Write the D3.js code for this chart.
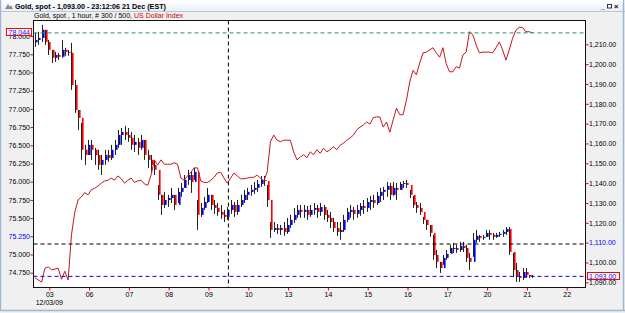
<!DOCTYPE html>
<html>
<head>
<meta charset="utf-8">
<script src="https://cdn.jsdelivr.net/npm/d3@7"></script>
<style>
body { margin: 0; background: #f0f0f0; }
svg { display: block; font-family: "Liberation Sans", Arial, sans-serif; }
</style>
</head>
<body>
<svg id="chart" width="625" height="313"></svg>
<script>
// x axis: trading days shown (weekends collapsed)
const dayLabels = ["03", "06", "07", "08", "09", "10", "13", "14", "15", "16", "17", "20", "21", "22"];
const firstDate = "12/03/09";
const barsPerDay = 12;      // one point every 2 hours
const dayStart = -0.36;     // first bar, in day units

// gold spot candles (right axis)
const goldOpen0 = 1211;
const goldHigh = [1215.8,1216.3,1219.8,1217.3,1212.2,1207.2,1206.2,1205.7,1212.2,1208.2,1207.2,1210.7,1192.1,1176.9,1170.4,1159.3,1161.8,1161.8,1157.8,1156.8,
  1154.2,1156.8,1156.8,1159.3,1161.8,1166.8,1167.8,1168.9,1167.8,1165.8,1164.3,1162.8,1164.3,1161.8,1156.8,1154.2,1151.7,1139.1,1134.1,1135.6,
  1134.1,1137.6,1134.1,1137.6,1140.1,1144.1,1146.7,1145.7,1147.7,1131.5,1130.0,1133.1,1137.6,1134.1,1131.5,1130.0,1129.0,1126.5,1128.0,1131.5,
  1130.5,1131.5,1134.1,1136.6,1137.6,1139.1,1140.6,1141.6,1143.6,1143.6,1139.1,1120.4,1120.4,1119.4,1118.9,1120.4,1122.5,1124.0,1127.5,1129.0,
  1129.0,1129.0,1128.5,1129.0,1130.0,1129.0,1130.0,1129.0,1126.5,1125.5,1122.5,1120.4,1120.4,1124.0,1127.5,1129.0,1128.0,1129.0,1130.0,1131.5,
  1132.5,1133.6,1134.1,1135.6,1137.6,1138.1,1140.6,1140.1,1140.6,1140.1,1140.6,1141.1,1141.6,1136.6,1133.6,1130.5,1130.0,1123.0,1121.5,1118.9,
  1113.9,1106.3,1100.3,1103.8,1106.3,1108.9,1109.9,1108.9,1110.4,1110.4,1108.9,1104.8,1114.9,1116.4,1113.9,1113.9,1116.4,1116.4,1114.9,1114.9,
  1115.4,1116.4,1117.9,1117.9,1104.8,1099.8,1095.2,1097.2,1097.2,1093.7,1093.7];
const goldLow = [1208.7,1209.7,1211.2,1209.7,1204.6,1200.6,1201.1,1202.1,1203.2,1204.2,1204.2,1187.0,1175.4,1166.8,1151.7,1149.2,1154.2,1151.7,1149.2,1146.7,
  1144.1,1149.2,1150.7,1151.7,1154.2,1157.8,1159.3,1161.8,1160.8,1156.8,1155.7,1154.2,1156.8,1151.7,1147.7,1145.7,1144.1,1131.5,1124.0,1127.5,
  1128.0,1130.0,1126.5,1130.0,1133.1,1137.6,1139.1,1135.1,1141.6,1116.4,1123.0,1126.5,1130.0,1126.5,1124.5,1123.5,1122.0,1120.4,1121.5,1124.5,
  1123.0,1124.0,1128.0,1130.0,1131.5,1133.6,1134.6,1135.6,1138.1,1138.6,1128.0,1112.4,1115.4,1114.4,1113.9,1113.4,1114.4,1117.4,1119.9,1122.5,
  1122.5,1122.5,1121.5,1123.0,1124.0,1122.5,1123.5,1121.5,1120.4,1117.4,1115.4,1113.4,1111.4,1115.4,1120.4,1122.5,1121.5,1122.5,1123.5,1124.5,
  1125.5,1126.5,1127.5,1129.0,1130.5,1131.5,1133.1,1131.5,1133.6,1131.5,1136.6,1137.6,1137.6,1132.5,1127.5,1125.0,1124.0,1119.4,1116.4,1112.9,
  1101.3,1097.2,1094.7,1098.8,1101.3,1104.8,1104.8,1104.8,1105.3,1105.3,1100.3,1096.2,1102.8,1109.9,1110.4,1111.4,1112.9,1111.4,1111.4,1112.4,
  1112.9,1112.9,1113.9,1103.8,1092.7,1090.2,1090.2,1091.2,1092.2,1092.2,1092.2];
const goldClose = [1212.2,1213.2,1217.3,1211.2,1207.2,1203.2,1204.6,1203.7,1207.2,1206.2,1205.7,1189.5,1176.9,1172.9,1156.8,1154.2,1159.3,1156.8,1154.2,1149.2,
  1151.7,1154.2,1152.7,1156.8,1159.3,1164.3,1165.8,1164.3,1162.8,1159.3,1160.8,1157.8,1161.8,1154.2,1151.7,1149.2,1146.7,1134.1,1129.0,1131.5,
  1132.5,1134.1,1129.0,1135.6,1137.6,1141.6,1144.1,1140.6,1145.7,1124.0,1127.5,1130.5,1134.1,1129.0,1127.5,1125.5,1124.0,1123.0,1126.5,1129.0,
  1125.5,1129.0,1131.5,1134.1,1135.6,1136.6,1137.6,1139.6,1141.6,1141.1,1131.5,1116.4,1117.4,1116.4,1117.4,1115.4,1118.9,1121.5,1124.0,1126.5,
  1125.5,1126.5,1124.0,1126.5,1127.5,1125.5,1128.0,1124.0,1122.5,1120.4,1117.4,1115.4,1116.4,1121.5,1125.5,1126.5,1124.5,1126.5,1128.5,1127.5,
  1130.5,1131.5,1130.0,1133.6,1135.6,1136.6,1138.6,1134.1,1137.6,1136.6,1139.6,1140.1,1139.1,1134.1,1129.0,1127.5,1125.5,1121.5,1118.9,1114.9,
  1103.8,1100.3,1097.2,1102.3,1104.3,1107.3,1107.3,1106.3,1108.4,1107.3,1102.3,1100.3,1111.4,1113.4,1112.4,1112.9,1114.9,1113.9,1112.9,1113.9,
  1114.4,1115.4,1116.9,1105.3,1096.2,1093.2,1092.2,1095.2,1093.7,1093.2,1093.0];
const goldLast = 1093.00;

// US Dollar Index line (left axis)
const usdIndex = [74.68,74.65,74.62,74.81,74.83,74.79,74.80,74.81,74.66,74.77,74.65,75.27,75.58,75.75,75.79,75.85,75.82,75.89,75.91,75.94,
  75.98,76.01,76.02,76.05,76.02,76.08,76.04,75.98,76.02,76.05,75.99,76.01,76.02,75.97,75.95,76.09,76.30,76.23,76.30,76.24,
  76.24,76.24,76.26,76.24,76.05,76.02,76.08,76.13,76.19,76.19,76.01,75.99,75.99,76.02,76.06,76.12,76.13,76.05,75.98,76.05,
  76.12,76.08,76.04,76.04,76.05,76.06,76.06,76.09,76.05,76.01,76.13,76.55,76.64,76.57,76.55,76.57,76.57,76.57,76.41,76.30,
  76.34,76.37,76.33,76.41,76.37,76.44,76.39,76.46,76.41,76.44,76.48,76.44,76.50,76.53,76.57,76.60,76.64,76.71,76.75,76.78,
  76.82,76.79,76.88,76.89,76.89,76.75,76.82,76.68,76.85,77.01,76.92,76.92,77.12,77.37,77.53,77.47,77.63,77.77,77.78,77.81,
  77.84,77.77,77.71,77.84,77.62,77.51,77.51,77.58,77.56,77.74,77.78,78.06,78.02,77.88,77.77,77.78,77.78,77.78,77.77,77.84,
  77.92,77.81,77.67,77.81,77.97,78.08,78.12,78.12,78.06,78.06,78.044];
const usdLast = 78.044;

// axis ticks and crosshair
const usdTicks = [74.75, 75.0, 75.25, 75.5, 75.75, 76.0, 76.25, 76.5, 76.75, 77.0, 77.25, 77.5, 77.75, 78.0];
const goldTicks = [1090, 1100, 1110, 1120, 1130, 1140, 1150, 1160, 1170, 1180, 1190, 1200, 1210];
const crossDay = 4.5;
const crossGold = 1109.3;

const svg = d3.select("#chart");
const W = +svg.attr("width"), H = +svg.attr("height");
const plot = {left: 33.5, right: 585.5, top: 20.5, bottom: 287.5};

// window frame
const grad = svg.append("defs").append("linearGradient").attr("id", "tb").attr("x1", 0).attr("x2", 0).attr("y1", 0).attr("y2", 1);
grad.append("stop").attr("offset", 0).attr("stop-color", "#ffffff");
grad.append("stop").attr("offset", 1).attr("stop-color", "#e9eef6");
svg.append("rect").attr("width", W).attr("height", H).attr("fill", "#f0f0f0");
svg.append("rect").attr("x", 0).attr("y", 0).attr("width", W).attr("height", 11.5).attr("fill", "url(#tb)");
svg.append("line").attr("x1", 0).attr("x2", W).attr("y1", 11.5).attr("y2", 11.5).attr("stroke", "#b8c6da");
svg.append("line").attr("x1", 0.5).attr("x2", 0.5).attr("y1", 0).attr("y2", 311).attr("stroke", "#9fb6d6").attr("stroke-width", 1.5);
svg.append("line").attr("x1", 623.5).attr("x2", 623.5).attr("y1", 0).attr("y2", 311).attr("stroke", "#9fb6d6").attr("stroke-width", 1.5);
svg.append("line").attr("x1", 0).attr("x2", W).attr("y1", 310.5).attr("y2", 310.5).attr("stroke", "#9fb6d6").attr("stroke-width", 1.5);

// title bar
svg.append("path").attr("d", "M5,9 L8,4 L10,7 L11,5 L13,9 Z").attr("fill", "#8a8a8a");
svg.append("text").attr("x", 15).attr("y", 8.8).attr("font-size", 7.2).attr("font-weight", "bold")
  .text("Gold, spot - 1,093.00 - 23:12:06  21 Dec (EST)");
svg.append("text").attr("x", 601).attr("y", 8.5).attr("font-size", 7).attr("font-weight", "bold").text("_");
svg.append("rect").attr("x", 607.5).attr("y", 4.5).attr("width", 4).attr("height", 3.5).attr("fill", "none").attr("stroke", "#333");
svg.append("text").attr("x", 614).attr("y", 8.8).attr("font-size", 7.5).attr("font-weight", "bold").text("×");

// subtitle
const sub = svg.append("text").attr("x", 34).attr("y", 18).attr("font-size", 7);
sub.append("tspan").text("Gold, spot , 1 hour, # 300 / 500, ");
sub.append("tspan").attr("fill", "#cc0000").text("US Dollar Index");

// plot area
svg.append("rect").attr("x", plot.left).attr("y", plot.top)
  .attr("width", plot.right - plot.left).attr("height", plot.bottom - plot.top)
  .attr("fill", "#ffffff").attr("stroke", "#111").attr("stroke-width", 1);

// scales
const x = d3.scaleLinear().domain([0, 13]).range([49.3, 566.7]);
const yL = d3.scaleLinear().domain([74.75, 78.0]).range([272.7, 36.1]);
const yR = d3.scaleLinear().domain([1090, 1210]).range([282.3, 44.3]);
const barX = i => x(dayStart + i / barsPerDay);

// candles
const candles = goldClose.map((c, i) => ({
  i, close: c, high: goldHigh[i], low: goldLow[i],
  open: i === 0 ? goldOpen0 : goldClose[i - 1]
}));
const cg = svg.append("g");
cg.selectAll("line").data(candles).join("line")
  .attr("x1", d => Math.round(barX(d.i)) + 0.5)
  .attr("x2", d => Math.round(barX(d.i)) + 0.5)
  .attr("y1", d => yR(d.high)).attr("y2", d => yR(d.low))
  .attr("stroke", "#222").attr("stroke-width", 1);
cg.selectAll("rect").data(candles).join("rect")
  .attr("x", d => Math.round(barX(d.i)) + 1)
  .attr("width", 1.6)
  .attr("y", d => Math.min(yR(d.open), yR(d.close)))
  .attr("height", d => Math.max(1, Math.abs(yR(d.open) - yR(d.close))))
  .attr("fill", d => d.close >= d.open ? "#0000ff" : "#ff0000");

// dollar index line
svg.append("path").datum(usdIndex)
  .attr("d", d3.line().x((v, i) => barX(i)).y(v => yL(v)))
  .attr("fill", "none").attr("stroke", "#c4161c").attr("stroke-width", 1);

// reference lines
const dash = "4,3";
svg.append("line").attr("x1", plot.left).attr("x2", plot.right)
  .attr("y1", yL(usdLast)).attr("y2", yL(usdLast))
  .attr("stroke", "#2a8c80").attr("stroke-dasharray", dash);
svg.append("line").attr("x1", plot.left).attr("x2", plot.right)
  .attr("y1", yR(crossGold)).attr("y2", yR(crossGold))
  .attr("stroke", "#000").attr("stroke-dasharray", dash);
svg.append("line").attr("x1", plot.left).attr("x2", plot.right)
  .attr("y1", yR(goldLast)).attr("y2", yR(goldLast))
  .attr("stroke", "#0000ff").attr("stroke-dasharray", dash);
svg.append("line").attr("x1", x(crossDay)).attr("x2", x(crossDay))
  .attr("y1", plot.top).attr("y2", plot.bottom)
  .attr("stroke", "#000").attr("stroke-dasharray", dash);

// left axis (dollar index)
const leftAxis = d3.axisLeft(yL).tickValues(usdTicks).tickSize(3).tickFormat(d3.format(".3f"));
const gl = svg.append("g").attr("transform", `translate(${plot.left},0)`).call(leftAxis);
gl.select(".domain").remove();
gl.selectAll(".tick line").attr("stroke", "#e00000");
gl.selectAll(".tick text").attr("font-size", 7).attr("font-family", "Liberation Sans, Arial, sans-serif")
  .attr("x", -3.5).attr("fill", d => d === 75.25 ? "#0000ff" : "#000");

// right axis (gold)
const rightAxis = d3.axisRight(yR).tickValues(goldTicks).tickSize(3).tickFormat(d3.format(",.2f"));
const gr = svg.append("g").attr("transform", `translate(${plot.right},0)`).call(rightAxis);
gr.select(".domain").remove();
gr.selectAll(".tick line").attr("stroke", "#e00000");
gr.selectAll(".tick text").attr("font-size", 7).attr("font-family", "Liberation Sans, Arial, sans-serif")
  .attr("x", 3.5).attr("fill", d => d === 1110 ? "#0000ff" : "#000");

// bottom axis (days)
const bottomAxis = d3.axisBottom(x).tickValues(d3.range(dayLabels.length)).tickSize(3).tickFormat(i => dayLabels[i]);
const gb = svg.append("g").attr("transform", `translate(0,${plot.bottom})`).call(bottomAxis);
gb.select(".domain").remove();
gb.selectAll(".tick line").attr("stroke", "#e00000");
gb.selectAll(".tick text").attr("font-size", 7).attr("font-family", "Liberation Sans, Arial, sans-serif").attr("y", 5).attr("fill", "#000");
svg.append("text").attr("x", x(0)).attr("y", 305).attr("text-anchor", "middle").attr("font-size", 7).text(firstDate);

// last value boxes
svg.append("rect").attr("x", 6.5).attr("y", 28.5).attr("width", 25).attr("height", 7)
  .attr("fill", "#fff").attr("stroke", "#ff0000");
svg.append("text").attr("x", 30).attr("y", yL(usdLast) + 2.4).attr("text-anchor", "end")
  .attr("font-size", 7).attr("fill", "#0000ff").text(d3.format(".3f")(usdLast));
svg.append("rect").attr("x", 587.5).attr("y", 272.5).attr("width", 32).attr("height", 7)
  .attr("fill", "#fff").attr("stroke", "#ff0000");
svg.append("text").attr("x", 589).attr("y", yR(goldLast) + 2.4)
  .attr("font-size", 7).attr("fill", "#0000ff").text(d3.format(",.2f")(goldLast));
</script>
</body>
</html>
